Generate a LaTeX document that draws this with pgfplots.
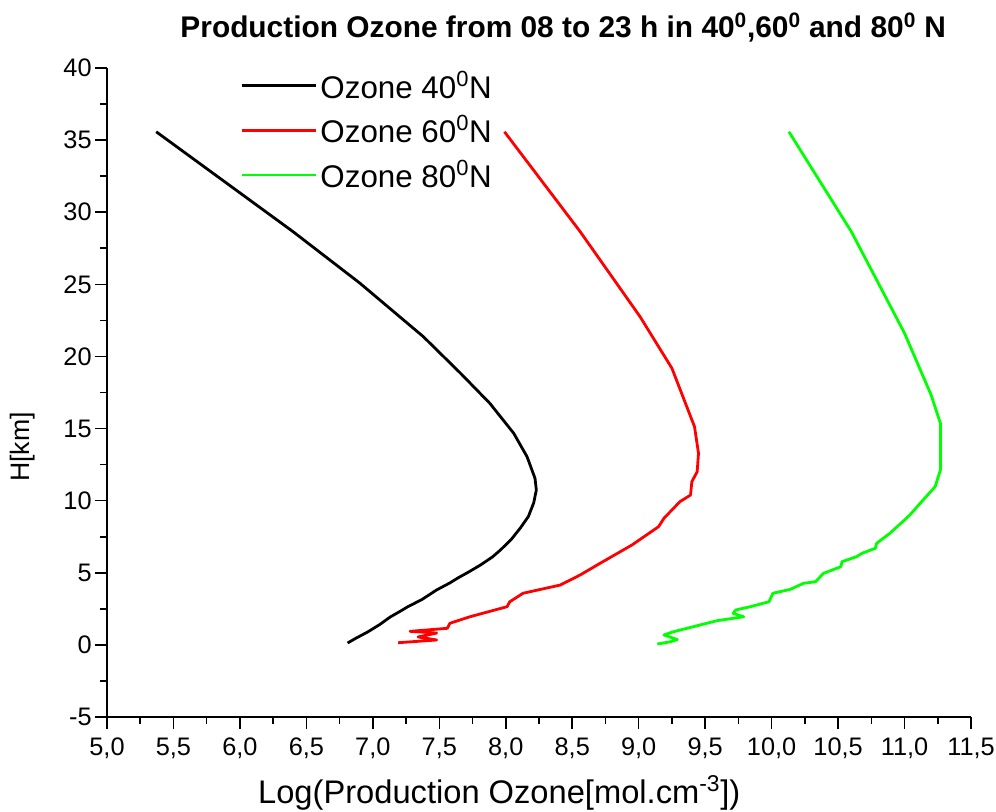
\documentclass[border=0pt]{standalone}
\usepackage{fontspec}
\setmainfont{Liberation Sans}
\usepackage{pgfplots}
\pgfplotsset{compat=1.18}
\definecolor{pgreen}{RGB}{0,255,0}
\definecolor{pred}{RGB}{255,0,0}
\begin{document}
\begin{tikzpicture}
\useasboundingbox (-80.25pt,-70.5pt) rectangle (666.75pt,537.75pt);
\begin{axis}[
  at={(0,0)}, anchor=south west,
  scale only axis, width=648pt, height=486.75pt,
  xmin=5, xmax=11.5, ymin=-5, ymax=40,
  axis lines=left,
  axis line style={-, line width=1.5pt},
  xtick={5,5.5,6,6.5,7,7.5,8,8.5,9,9.5,10,10.5,11,11.5},
  ytick={-5,0,5,10,15,20,25,30,35,40},
  minor x tick num=1, minor y tick num=1,
  tick align=outside,
  major tick length=9pt, minor tick length=5pt,
  every tick/.style={black, line width=1.2pt},
  tick label style={font=\fontsize{19}{22}\selectfont},
  /pgf/number format/assume math mode=true,
  xticklabel style={yshift=-3pt, /pgf/number format/.cd, fixed, fixed zerofill, precision=1, use comma},
  yticklabel style={xshift=1pt, /pgf/number format/.cd, fixed, precision=0},
  title={\bfseries Production Ozone from 08 to 23 h in 40\textsuperscript{0},60\textsuperscript{0} and 80\textsuperscript{0} N},
  title style={at={(axis description cs:0.528,1.05)}, anchor=center, font=\fontsize{22.4}{26}\selectfont},
  xlabel={Log(Production Ozone[mol.cm\textsuperscript{-3}])},
  xlabel style={at={(axis description cs:0.454,-0.117)}, anchor=center, font=\fontsize{24.5}{28}\selectfont},
  ylabel={H[km]},
  ylabel style={at={(axis description cs:-0.098,0.416)}, anchor=center, font=\fontsize{20}{24}\selectfont},
  legend style={at={(axis description cs:0.154,1.0)}, anchor=north west, draw=none, fill=none,
    font=\fontsize{23.5}{27}\selectfont, inner sep=0pt, row sep=7.5pt, cells={anchor=west}},
  legend image code/.code={\draw[#1] (0pt,0pt) -- (56pt,0pt);},
  every axis plot/.append style={line width=2.1pt, line join=round},
]
\addplot[black] coordinates {
(6.81,0.13) (6.87,0.45) (6.96,0.89) (7.05,1.40) (7.13,1.93) (7.20,2.30) (7.26,2.63)
(7.37,3.15) (7.48,3.81) (7.58,4.30) (7.64,4.64) (7.72,5.05) (7.81,5.54) (7.90,6.10)
(7.96,6.58) (8.04,7.30) (8.11,8.11) (8.17,8.90) (8.21,9.84) (8.23,10.74) (8.22,11.55)
(8.16,13.05) (8.06,14.67) (7.88,16.75) (7.66,18.83) (7.38,21.37) (6.90,25.10)
(6.40,28.65) (5.37,35.58)};
\addlegendentry{Ozone 40\textsuperscript{0}N}
\addplot[pred] coordinates {
(7.19,0.15) (7.48,0.34) (7.34,0.55) (7.48,0.82) (7.28,0.94) (7.56,1.15) (7.58,1.50)
(7.73,1.95) (8.01,2.65) (8.03,2.99) (8.13,3.58) (8.41,4.15) (8.56,4.85) (8.71,5.66)
(8.95,6.93) (9.15,8.20) (9.19,8.78) (9.31,9.93) (9.39,10.39) (9.40,11.32) (9.44,12.01)
(9.45,13.28) (9.42,15.13) (9.25,19.18) (9.01,22.76) (8.56,28.65) (7.99,35.58)};
\addlegendentry{Ozone 60\textsuperscript{0}N}
\addplot[pgreen] coordinates {
(9.14,0.06) (9.24,0.22) (9.29,0.37) (9.19,0.69) (9.26,0.91) (9.41,1.26) (9.59,1.68)
(9.79,1.95) (9.71,2.19) (9.73,2.42) (9.84,2.65) (9.98,2.99) (10.01,3.58) (10.14,3.85)
(10.24,4.27) (10.33,4.38) (10.39,4.96) (10.52,5.42) (10.53,5.77) (10.64,6.12)
(10.68,6.35) (10.78,6.70) (10.79,7.04) (10.89,7.74) (11.00,8.66) (11.04,9.01)
(11.14,10.05) (11.23,10.97) (11.27,12.13) (11.27,13.28) (11.27,15.36) (11.20,17.33)
(11.00,21.61) (10.60,28.65) (10.13,35.58)};
\addlegendentry{Ozone 80\textsuperscript{0}N}
\end{axis}
\end{tikzpicture}
\end{document}
